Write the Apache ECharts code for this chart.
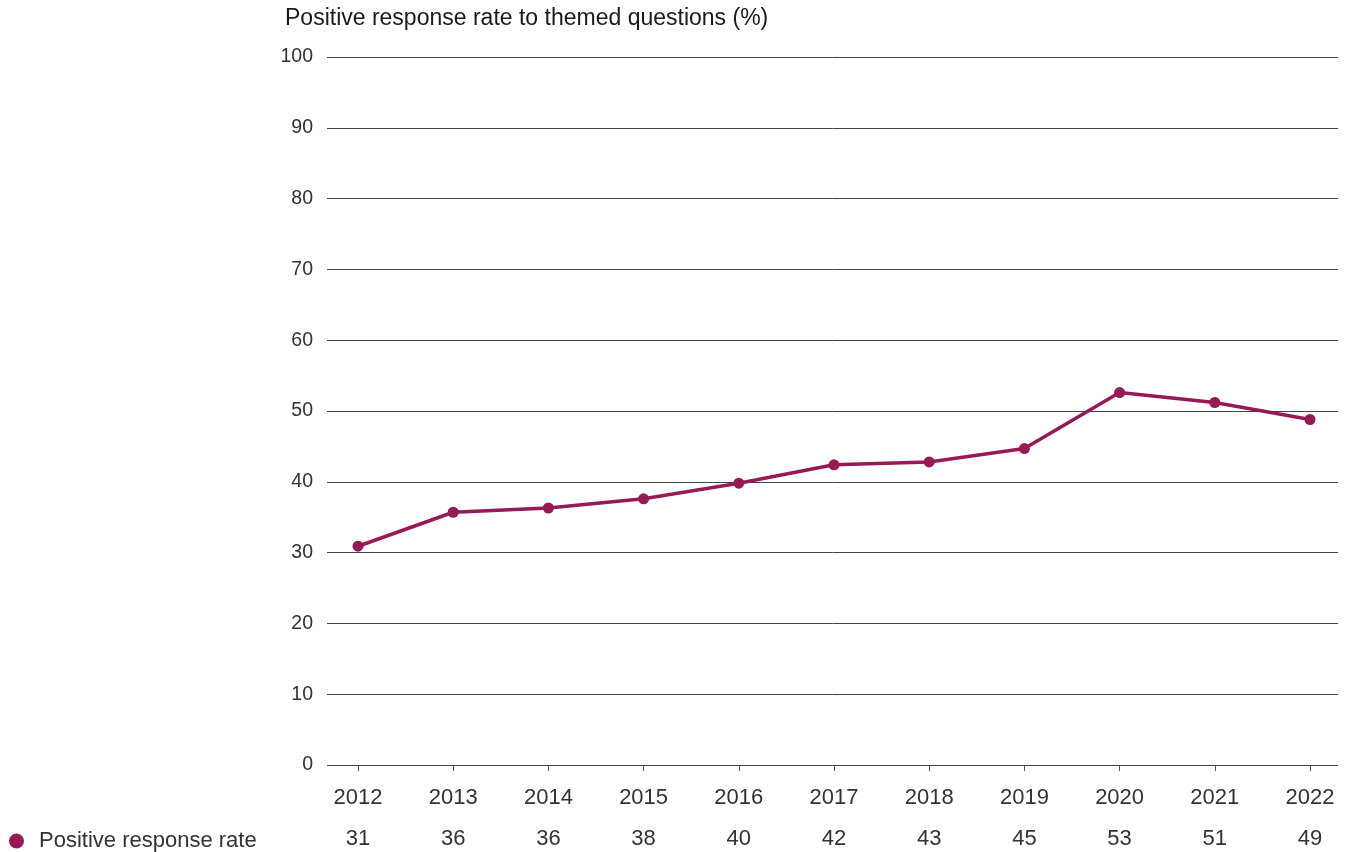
<!DOCTYPE html>
<html>
<head>
<meta charset="utf-8">
<script src="https://cdn.jsdelivr.net/npm/echarts@6/dist/echarts.min.js"></script>
<style>
  html, body { margin: 0; padding: 0; background: #fff; }
  #chart { width: 1351px; height: 852px; }
</style>
</head>
<body>
<div id="chart"></div>
<script>
// Survey years and positive response rate (%)
const years = ['2012', '2013', '2014', '2015', '2016', '2017', '2018', '2019', '2020', '2021', '2022'];
const positiveRate = [30.9, 35.7, 36.3, 37.6, 39.8, 42.4, 42.8, 44.7, 52.6, 51.2, 48.8];
const yTicks = [0, 10, 20, 30, 40, 50, 60, 70, 80, 90, 100];
const seriesName = 'Positive response rate';
const chartTitle = 'Positive response rate to themed questions (%)';

const lineColor = '#961a56';
const textColor = '#333333';
const fontFamily = '"Liberation Sans", Arial, sans-serif';
const fontSize = 22;

const chart = echarts.init(document.getElementById('chart'), null, { renderer: 'canvas' });

chart.setOption({
  animation: false,
  title: {
    text: chartTitle,
    left: 280,
    top: 2,
    textStyle: { fontFamily, fontSize: 23, fontWeight: 'normal', color: '#1a1a1a' }
  },
  legend: {
    data: [{ name: seriesName, icon: 'circle' }],
    left: 9,
    top: 830,
    padding: 0,
    itemWidth: 15,
    itemHeight: 15,
    textStyle: { fontFamily, fontSize, color: textColor, padding: [0, 0, 0, 10] }
  },
  grid: [
    // wide grid carrying the value gridlines
    { left: 327, right: 13, top: 57, bottom: 87 },
    // inner grid where the yearly points sit
    { left: 358, right: 41, top: 57, bottom: 87 }
  ],
  xAxis: [
    { gridIndex: 0, type: 'category', data: years, show: false },
    {
      gridIndex: 1,
      type: 'category',
      data: years,
      boundaryGap: false,
      axisLine: { show: false },
      axisTick: { show: true, inside: false, length: 6, lineStyle: { color: '#555', width: 1 } },
      axisLabel: { margin: 22, fontFamily, fontSize, color: textColor },
      splitLine: { show: false }
    },
    {
      gridIndex: 1,
      type: 'category',
      data: years,
      boundaryGap: false,
      position: 'bottom',
      offset: 41,
      axisLine: { show: false },
      axisTick: { show: false },
      axisLabel: {
        margin: 22,
        fontFamily, fontSize, color: textColor,
        formatter: (v, i) => String(Math.round(positiveRate[i]))
      },
      splitLine: { show: false }
    }
  ],
  yAxis: [
    {
      gridIndex: 0,
      type: 'value',
      min: yTicks[0],
      max: yTicks[yTicks.length - 1],
      interval: 10,
      axisLine: { show: false },
      axisTick: { show: false },
      axisLabel: { margin: 14, fontFamily, fontSize: 19.5, color: textColor, padding: [5, 0, 0, 0] },
      splitLine: { show: true, lineStyle: { color: '#444', width: 1 } }
    },
    {
      gridIndex: 1,
      type: 'value',
      min: yTicks[0],
      max: yTicks[yTicks.length - 1],
      interval: 10,
      show: false,
      splitLine: { show: false }
    }
  ],
  series: [
    {
      name: seriesName,
      type: 'line',
      xAxisIndex: 1,
      yAxisIndex: 1,
      data: positiveRate,
      symbol: 'circle',
      symbolSize: 11,
      lineStyle: { color: lineColor, width: 3.5 },
      itemStyle: { color: lineColor },
      z: 5
    }
  ]
});
</script>
</body>
</html>
